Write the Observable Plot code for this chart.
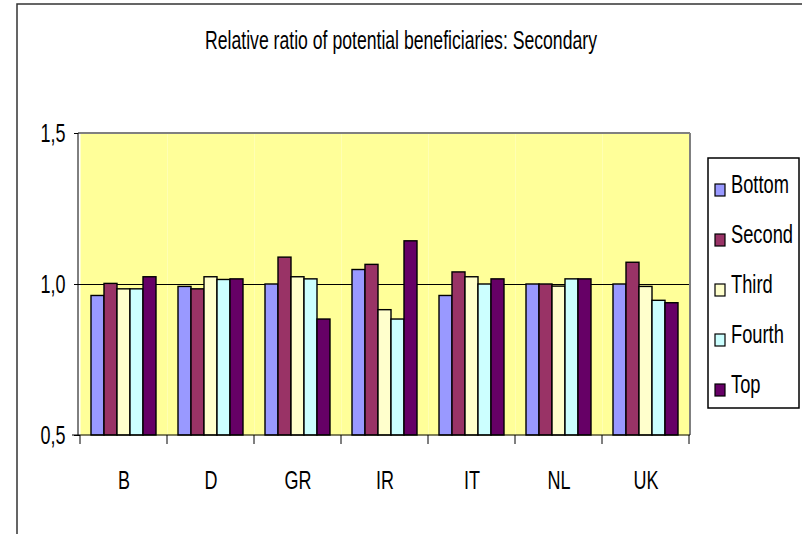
<!DOCTYPE html>
<html><head><meta charset="utf-8">
<script src="https://cdn.jsdelivr.net/npm/d3@7"></script>
<script src="https://cdn.jsdelivr.net/npm/@observablehq/plot@0.6"></script>
<style>
body{margin:0;background:#fff;}
#wrap{position:relative;width:802px;height:534px;}
</style></head><body><div id="wrap"></div>
<script>
const chartTitle = "Relative ratio of potential beneficiaries: Secondary";
const countries = ["B", "D", "GR", "IR", "IT", "NL", "UK"];
const quintiles = ["Bottom", "Second", "Third", "Fourth", "Top"];
const colors = ["#9999FF", "#993366", "#FFFFCC", "#CCFFFF", "#660066"];
const bottomQ = [0.962, 0.992, 1.000, 1.048, 0.962, 1.000, 1.000];
const secondQ = [1.002, 0.984, 1.089, 1.065, 1.040, 1.000, 1.072];
const thirdQ  = [0.984, 1.024, 1.024, 0.915, 1.024, 0.993, 0.992];
const fourthQ = [0.984, 1.015, 1.017, 0.884, 1.000, 1.017, 0.946];
const topQ    = [1.024, 1.017, 0.884, 1.143, 1.017, 1.017, 0.938];
const yTicks = [0.5, 1.0, 1.5];

const series = [bottomQ, secondQ, thirdQ, fourthQ, topQ];
const rows = countries.flatMap((c, i) => quintiles.map((q, j) => ({country: c, quintile: q, value: series[j][i]})));
const FONT = '"Liberation Sans", Arial, sans-serif';

const plot = Plot.plot({
  width: 802, height: 534,
  marginLeft: 78, marginRight: 112, marginTop: 133, marginBottom: 99,
  style: {fontFamily: FONT, fontSize: "25px", color: "#000", background: "transparent", overflow: "visible"},
  fx: {domain: countries, padding: 0, tickSize: 0, tickPadding: 36, label: null, axis: "bottom"},
  x: {domain: quintiles, paddingInner: 0, paddingOuter: 0.8, axis: null},
  y: {domain: [0.5, 1.5], ticks: yTicks, tickFormat: d => d3.format(".1f")(d).replace(".", ","), tickSize: 6, tickPadding: 9, label: null},
  color: {domain: quintiles, range: colors},
  marks: [
    Plot.frame({fill: "#FFFF99", stroke: "none"}),
    Plot.ruleY([1], {stroke: "#000", strokeWidth: 1}),
    Plot.barY(rows, {fx: "country", x: "quintile", y1: 0.5, y2: "value", fill: "quintile", stroke: "#000", strokeWidth: 1.4})
  ]
});
document.getElementById("wrap").append(plot);

const svg = d3.select(plot);
const fx = plot.scale("fx"), y = plot.scale("y");
const x0 = fx.range[0], x1 = fx.range[1];
const yTop = y.apply(1.5), yBot = y.apply(0.5);

// plot area borders
const g = svg.append("g");
g.append("line").attr("x1", x0).attr("x2", x1).attr("y1", yTop).attr("y2", yTop).attr("stroke", "#808080").attr("stroke-width", 2);
g.append("line").attr("x1", x1).attr("x2", x1).attr("y1", yTop).attr("y2", yBot).attr("stroke", "#808080").attr("stroke-width", 2);
g.append("line").attr("x1", x0).attr("x2", x0).attr("y1", yTop).attr("y2", yBot).attr("stroke", "#000").attr("stroke-width", 1);
g.append("line").attr("x1", x0 - 6).attr("x2", x1).attr("y1", yBot).attr("y2", yBot).attr("stroke", "#000").attr("stroke-width", 1);
// category boundary ticks
const bounds = countries.map(c => fx.apply(c)).concat([fx.apply(countries[countries.length - 1]) + fx.bandwidth]);
g.selectAll(".bt").data(bounds).join("line").attr("x1", d => d).attr("x2", d => d)
  .attr("y1", yBot).attr("y2", yBot + 9).attr("stroke", "#000").attr("stroke-width", 1);

// outer chart frame
svg.append("path").attr("d", "M17,534V4H802").attr("fill", "none").attr("stroke", "#333").attr("stroke-width", 1.5);

// title
svg.append("text").attr("class", "ttl").attr("x", 401).attr("y", 49).attr("text-anchor", "middle")
  .attr("font-family", FONT).attr("font-size", 25).attr("fill", "#000").text(chartTitle);

// condensed text look for Plot's own texts and the title
svg.selectAll("text").each(function() {
  const L = this.getComputedTextLength();
  if (L > 0) {
    const k = this.getAttribute("class") === "ttl" ? 0.705 : 0.72;
    this.setAttribute("textLength", (L * k).toFixed(1));
    this.setAttribute("lengthAdjust", "spacingAndGlyphs");
  }
});

// legend (narrow type drawn small and stretched vertically)
const lg = svg.append("g").attr("text-anchor", "start");
lg.append("rect").attr("x", 708).attr("y", 158).attr("width", 91).attr("height", 250)
  .attr("fill", "#fff").attr("stroke", "#000").attr("stroke-width", 1.5);
quintiles.forEach((q, i) => {
  lg.append("rect").attr("x", 715).attr("y", 184 + 50 * i).attr("width", 10).attr("height", 12)
    .attr("fill", colors[i]).attr("stroke", "#000").attr("stroke-width", 1.2);
  lg.append("text").attr("transform", `translate(731,${193 + 50 * i}) scale(1,1.36)`)
    .attr("text-anchor", "start").attr("font-family", FONT)
    .attr("font-size", 18.3).attr("fill", "#000").text(q);
});
</script>
</body></html>
